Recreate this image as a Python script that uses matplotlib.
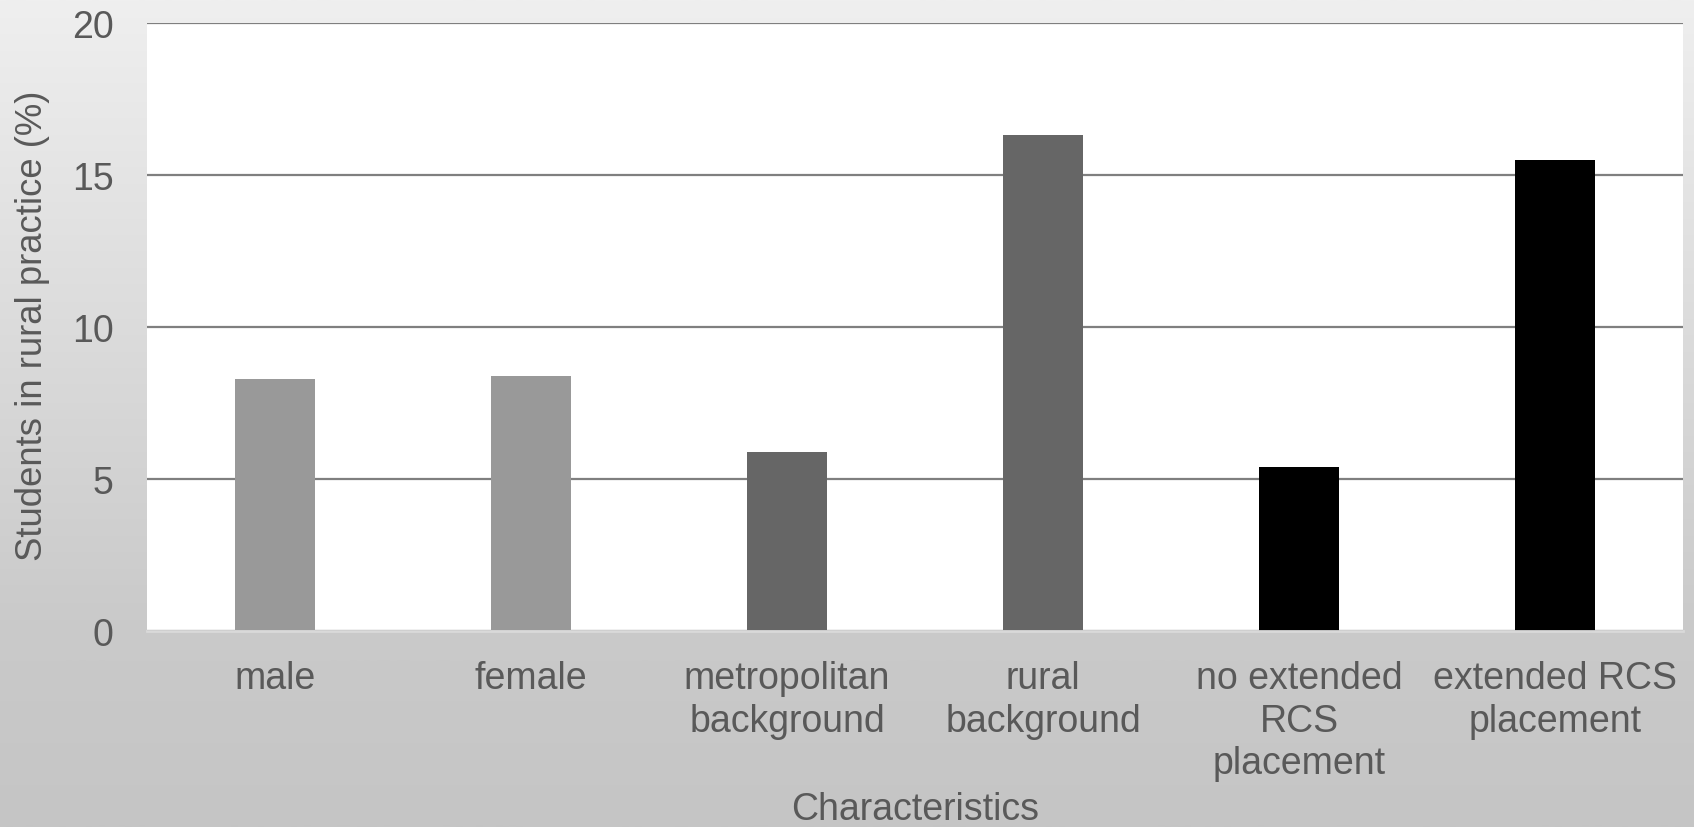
import numpy as np
import matplotlib
matplotlib.use("Agg")
import matplotlib.pyplot as plt
from matplotlib.colors import LinearSegmentedColormap

categories = ["male", "female", "metropolitan\nbackground", "rural\nbackground",
              "no extended\nRCS\nplacement", "extended RCS\nplacement"]
values = [8.3, 8.4, 5.9, 16.3, 5.4, 15.5]
bar_colors = ["#999999", "#999999", "#666666", "#666666", "#000000", "#000000"]
yticks = [0, 5, 10, 15, 20]

plt.rcParams['font.family'] = ['Liberation Sans', 'DejaVu Sans']
TXT = "#595959"
FS = 27

W, H = 1694, 828
fig = plt.figure(figsize=(W / 100, H / 100), dpi=100)

# gradient background
bg = fig.add_axes([0, 0, 1, 1], zorder=-10)
bg.axis("off")
cmap = LinearSegmentedColormap.from_list(
    "bg", [(0.0, "#efefef"), (0.75, "#cacaca"), (1.0, "#c5c5c5")])
grad = np.linspace(0, 1, 512).reshape(-1, 1)
bg.imshow(grad, aspect="auto", cmap=cmap, extent=[0, 1, 0, 1], origin="upper")

ax = fig.add_axes([147 / W, 1 - 632 / H, (1683 - 147) / W, (632 - 24) / H])
ax.set_facecolor("white")
x = np.arange(len(categories))
ax.bar(x, values, width=0.316, color=bar_colors, zorder=3)
ax.set_xlim(-0.5, len(categories) - 0.5)
ax.set_ylim(0, 20)
ax.set_yticks(yticks)
ax.set_xticks(x)
ax.set_xticklabels(categories, linespacing=1.23)
ax.grid(axis="y", color="#7f7f7f", linewidth=1.6, zorder=1)
ax.set_axisbelow(True)
for s in ["top", "right", "left"]:
    ax.spines[s].set_visible(False)
ax.spines["bottom"].set_color("#d9d9d9")
ax.spines["bottom"].set_linewidth(2)
ax.spines["bottom"].set_zorder(4)
ax.tick_params(axis="both", length=0, labelsize=FS, labelcolor=TXT)
ax.tick_params(axis="x", pad=21)
ax.tick_params(axis="y", pad=24)

fig.text(33 / W, 1 - (24 + 632) / 2 / H + 0.003, "Students in rural practice (%)", rotation=90,
         ha="center", va="center", fontsize=26.3, color=TXT)
fig.text((147 + 1683) / 2 / W, 1 - 810 / H, "Characteristics",
         ha="center", va="center", fontsize=FS, color=TXT)

fig.savefig("out.png", dpi=100)
